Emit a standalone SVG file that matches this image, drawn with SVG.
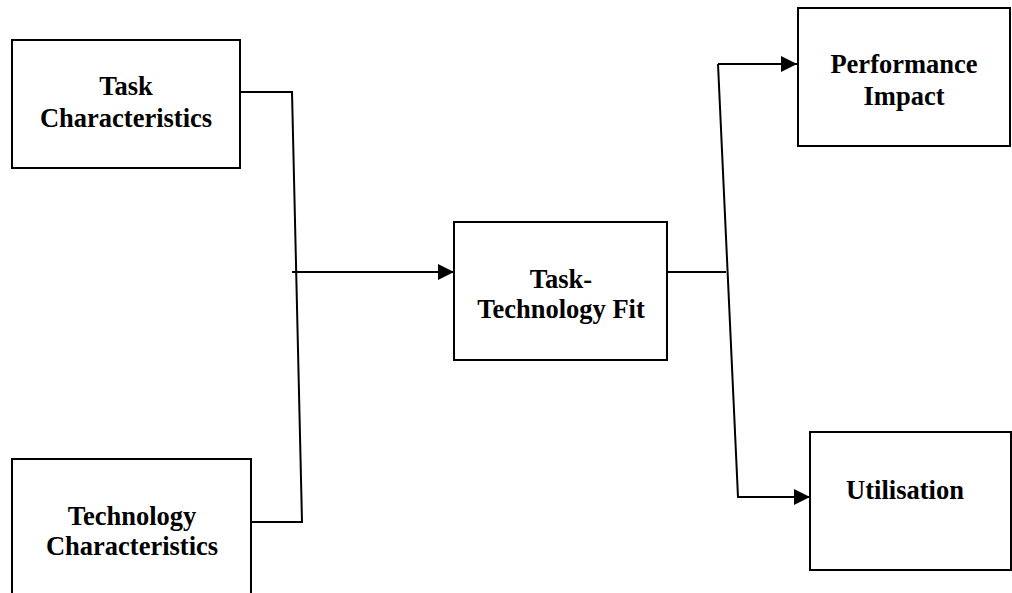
<svg xmlns="http://www.w3.org/2000/svg" width="1012" height="593" viewBox="0 0 1012 593">
<style>
.box{fill:#fff;stroke:#000;stroke-width:2}
.t{font-family:"Liberation Serif","Times New Roman",serif;font-weight:bold;font-size:26.5px;fill:#000;text-anchor:middle}
.c{fill:none;stroke:#000;stroke-width:2}
</style>
<defs>
<marker id="ah" markerWidth="16" markerHeight="16" refX="16" refY="8" orient="auto" markerUnits="userSpaceOnUse">
<path d="M0,0 L16,8 L0,16 Z" fill="#000"/>
</marker>
</defs>
<rect width="1012" height="593" fill="#fff"/>
<g id="connectors">
<polyline class="c" points="240,92 292,92 302,522 252,522"/>
<line class="c" x1="292" y1="272" x2="454" y2="272" marker-end="url(#ah)"/>
<line class="c" x1="667" y1="272" x2="726" y2="272"/>
<polyline class="c" points="718,64 738,497 810,497" marker-end="url(#ah)"/>
<line class="c" x1="718" y1="64" x2="797" y2="64" marker-end="url(#ah)"/>
</g>
<g id="task">
<rect class="box" x="12" y="40" width="228" height="128"/>
<text class="t" x="126" y="95">Task</text>
<text class="t" x="126" y="127">Characteristics</text>
</g>
<g id="technology">
<rect class="box" x="12" y="459" width="239" height="150"/>
<text class="t" x="132" y="525">Technology</text>
<text class="t" x="132" y="555">Characteristics</text>
</g>
<g id="ttf">
<rect class="box" x="454" y="222" width="213" height="138"/>
<text class="t" x="561" y="288">Task-</text>
<text class="t" x="561" y="318">Technology Fit</text>
</g>
<g id="performance">
<rect class="box" x="798" y="8" width="212" height="138"/>
<text class="t" x="904" y="73">Performance</text>
<text class="t" x="904" y="105">Impact</text>
</g>
<g id="utilisation">
<rect class="box" x="810" y="432" width="201" height="138"/>
<text class="t" x="905" y="499">Utilisation</text>
</g>
</svg>
